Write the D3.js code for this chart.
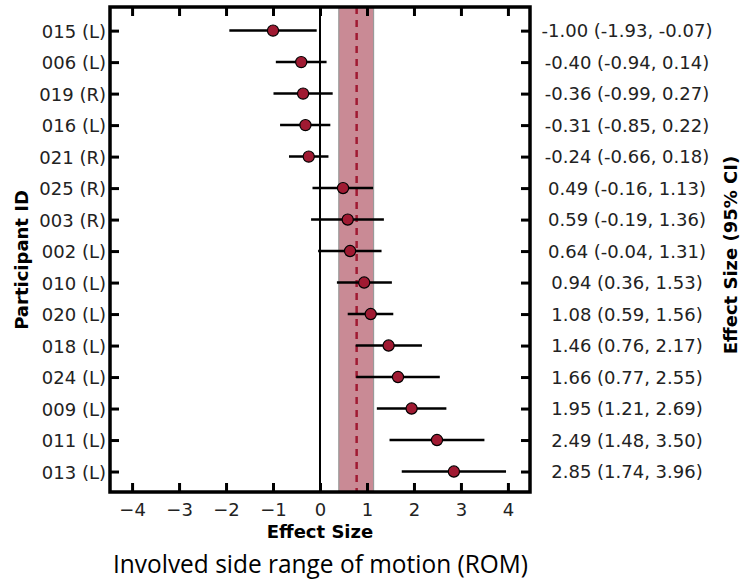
<!DOCTYPE html>
<html>
<head>
<meta charset="utf-8">
<script src="https://cdn.jsdelivr.net/npm/d3@7"></script>
<style>
  body { margin: 0; background: #fff; }
  svg { display: block; }
</style>
</head>
<body>
<div id="chart"></div>
<script>
// participant rows, top to bottom
var participants = ["015 (L)", "006 (L)", "019 (R)", "016 (L)", "021 (R)", "025 (R)", "003 (R)", "002 (L)",
                    "010 (L)", "020 (L)", "018 (L)", "024 (L)", "009 (L)", "011 (L)", "013 (L)"];
var effects = [-1.00, -0.40, -0.36, -0.31, -0.24, 0.49, 0.59, 0.64, 0.94, 1.08, 1.46, 1.66, 1.95, 2.49, 2.85];
var ciLow  = [-1.93, -0.94, -0.99, -0.85, -0.66, -0.16, -0.19, -0.04, 0.36, 0.59, 0.76, 0.77, 1.21, 1.48, 1.74];
var ciHigh = [-0.07, 0.14, 0.27, 0.22, 0.18, 1.13, 1.36, 1.31, 1.53, 1.56, 2.17, 2.55, 2.69, 3.50, 3.96];
// pooled estimate and its interval (shaded band)
var pooled = [0.78];
var pooledCI = [0.40, 1.14];
var xTicks = [-4, -3, -2, -1, 0, 1, 2, 3, 4];

var width = 741, height = 581;
// note: "top" is reserved on window, so plot edges get their own names
var plotL = 110, plotR = 530, plotT = 7, plotB = 492;
var font = "DejaVu Sans";
var fs = "18px";
var dotColor = "#a01a32";

var svg = d3.select("#chart").append("svg")
    .attr("width", width)
    .attr("height", height);

var x = d3.scaleLinear().domain([-4.47, 4.47]).range([plotL, plotR]);
var y = d3.scaleLinear().domain([-0.75, 14.65]).range([plotT, plotB]);

var rows = participants.map(function (p, i) {
    return { id: p, es: effects[i], lo: ciLow[i], hi: ciHigh[i], i: i };
});

// shaded pooled band
svg.append("rect")
    .attr("x", x(pooledCI[0]))
    .attr("y", plotT)
    .attr("width", x(pooledCI[1]) - x(pooledCI[0]))
    .attr("height", plotB - plotT)
    .attr("fill", "#c98a95")
    .attr("stroke", "#9a9a9a")
    .attr("stroke-width", 1.2);

svg.append("line")
    .attr("x1", x(pooled[0])).attr("x2", x(pooled[0]))
    .attr("y1", plotT).attr("y2", plotB)
    .attr("stroke", "#a01a32")
    .attr("stroke-width", 2.5)
    .attr("stroke-dasharray", "7,6");

// zero line
svg.append("line")
    .attr("x1", x(0)).attr("x2", x(0))
    .attr("y1", plotT).attr("y2", plotB)
    .attr("stroke", "#000")
    .attr("stroke-width", 2);

// error bars
svg.append("g").selectAll("line")
    .data(rows)
    .enter().append("line")
    .attr("x1", function (d) { return x(d.lo); })
    .attr("x2", function (d) { return x(d.hi); })
    .attr("y1", function (d) { return y(d.i); })
    .attr("y2", function (d) { return y(d.i); })
    .attr("stroke", "#000")
    .attr("stroke-width", 2.5);

svg.append("g").selectAll("circle")
    .data(rows)
    .enter().append("circle")
    .attr("cx", function (d) { return x(d.es); })
    .attr("cy", function (d) { return y(d.i); })
    .attr("r", 5.6)
    .attr("fill", dotColor)
    .attr("stroke", "#000")
    .attr("stroke-width", 1.2);

// axes with inward ticks
var rowIdx = d3.range(participants.length);

var xBottom = svg.append("g")
    .attr("transform", "translate(0," + plotB + ")")
    .call(d3.axisBottom(x).tickValues(xTicks).tickSizeInner(-9).tickSizeOuter(0).tickPadding(11));
var xTop = svg.append("g")
    .attr("transform", "translate(0," + plotT + ")")
    .call(d3.axisTop(x).tickValues(xTicks).tickSizeInner(-9).tickSizeOuter(0).tickFormat(""));
var yLeft = svg.append("g")
    .attr("transform", "translate(" + plotL + ",0)")
    .call(d3.axisLeft(y).tickValues(rowIdx).tickSizeInner(-9).tickSizeOuter(0).tickPadding(4)
        .tickFormat(function (i) { return participants[i]; }));
var yRight = svg.append("g")
    .attr("transform", "translate(" + plotR + ",0)")
    .call(d3.axisRight(y).tickValues(rowIdx).tickSizeInner(-9).tickSizeOuter(0).tickFormat(""));

[xBottom, xTop, yLeft, yRight].forEach(function (g) {
    g.select(".domain").remove();
    g.selectAll(".tick line").attr("stroke", "#000").attr("stroke-width", 3);
    g.selectAll(".tick text")
        .attr("fill", "#222")
        .style("font-family", font)
        .style("font-size", fs);
});
yLeft.selectAll(".tick text").attr("dy", "0.36em");

// frame
svg.append("rect")
    .attr("x", plotL).attr("y", plotT)
    .attr("width", plotR - plotL).attr("height", plotB - plotT)
    .attr("fill", "none")
    .attr("stroke", "#000")
    .attr("stroke-width", 3.5);

// right-hand effect size labels
function fmt(v) { return v.toFixed(2); }
svg.append("g").selectAll("text")
    .data(rows)
    .enter().append("text")
    .attr("x", 627)
    .attr("y", function (d) { return y(d.i); })
    .attr("dy", "0.36em")
    .attr("text-anchor", "middle")
    .attr("fill", "#222")
    .style("font-family", font)
    .style("font-size", fs)
    .text(function (d) { return fmt(d.es) + " (" + fmt(d.lo) + ", " + fmt(d.hi) + ")"; });

// axis titles
svg.append("text")
    .attr("x", (plotL + plotR) / 2)
    .attr("y", 532)
    .attr("dy", "0.36em")
    .attr("text-anchor", "middle")
    .style("font-family", font)
    .style("font-weight", "bold")
    .style("font-size", fs)
    .text("Effect Size");

svg.append("text")
    .attr("transform", "translate(22,260)rotate(-90)")
    .attr("dy", "0.36em")
    .attr("text-anchor", "middle")
    .style("font-family", font)
    .style("font-weight", "bold")
    .style("font-size", fs)
    .text("Participant ID");

svg.append("text")
    .attr("transform", "translate(731,255)rotate(-90)")
    .attr("dy", "0.36em")
    .attr("text-anchor", "middle")
    .style("font-family", font)
    .style("font-weight", "bold")
    .style("font-size", fs)
    .text("Effect Size (95% CI)");

// caption (baseline-anchored so the descenders stay inside)
svg.append("text")
    .attr("x", 320.5)
    .attr("y", 573)
    .attr("text-anchor", "middle")
    .attr("textLength", 415)
    .attr("lengthAdjust", "spacingAndGlyphs")
    .style("font-family", "Open Sans")
    .style("font-size", "25px")
    .text("Involved side range of motion (ROM)");
</script>
</body>
</html>
